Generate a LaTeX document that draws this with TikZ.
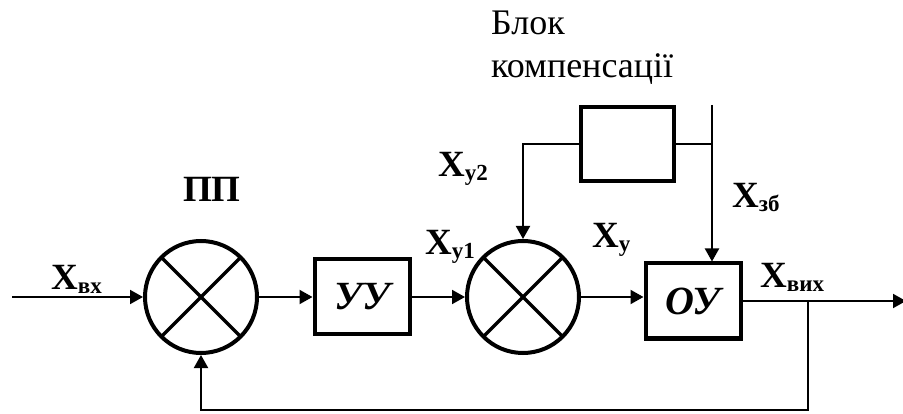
\documentclass[tikz,border=0pt]{standalone}
\usepackage{fontspec}
\setmainfont{Liberation Serif}
\usetikzlibrary{arrows.meta,calc}

% signal label: bold X with a bold subscript
\newcommand{\sigX}[1]{{\fontsize{37}{40}\selectfont\bfseries X\raisebox{-3.5pt}{\fontsize{23}{26}\selectfont #1}}}

\begin{document}
\begin{tikzpicture}[x=1pt,y=-1pt,
  wire/.style={line width=2pt},
  arr/.style={wire,-{Triangle[length=13pt,width=14pt]}},
  blockbox/.style={draw,line width=4pt,rectangle,inner sep=0pt,
    minimum width=95pt,minimum height=75pt,
    font=\fontsize{40}{44}\selectfont\bfseries\itshape},
  summer/.style={draw,line width=4pt,circle,inner sep=0pt,minimum size=112pt},
  cross/.style={line width=3.5pt},
  siglabel/.style={anchor=base west,inner sep=0pt},
  plain/.style={anchor=base west,inner sep=0pt,font=\fontsize{36}{40}\selectfont}]

\useasboundingbox (0,0) rectangle (903,414);

% main blocks
\node[summer] (c1) at (201,297) {};
\node[blockbox] (uu) at (362,297) {УУ};
\node[summer] (c2) at (523,297) {};
\node[blockbox,minimum width=93pt,minimum height=74pt] (comp) at (627,144) {};
\node[blockbox] (oy) at (693,301) {ОУ};

% crosses inside the summing circles
\foreach \c in {c1,c2}{
  \draw[cross] ($(\c)+(45:56)$) -- ($(\c)+(225:56)$);
  \draw[cross] ($(\c)+(135:56)$) -- ($(\c)+(315:56)$);
}

% free ends of the signal lines
\coordinate (in) at (12,297);
\coordinate (out) at (906,301);
\coordinate (tap) at (808,301);
\coordinate (ztop) at (712,105);

% forward path
\draw[arr] (in) -- (c1);
\draw[arr] (c1) -- (uu);
\draw[arr] (uu) -- (c2);
\draw[arr] (c2.east) -- (c2.east -| oy.west);
\draw[arr] (oy.east |- tap) -- (out);

% feedback loop
\draw[arr] (tap) -- ($(tap)+(0,109)$) -| (c1.south);

% compensation branch
\draw[arr] (comp.west) -| (c2.north);
\draw[wire] (comp.east) -- (comp.east -| ztop);
\draw[arr] (ztop) -- (ztop |- oy.north);

% labels
\node[siglabel] (lpp) at (183,202) {\fontsize{37}{40}\selectfont\bfseries ПП};
\node[siglabel] (lin) at (51,290) {\sigX{вх}};
\node[siglabel] (ly1) at (425,255) {\sigX{у1}};
\node[siglabel] (ly2) at (438,177) {\sigX{у2}};
\node[siglabel] (ly) at (592,248) {\sigX{у}};
\node[siglabel] (lzb) at (732,208) {\sigX{зб}};
\node[siglabel] (lout) at (760,288) {\sigX{вих}};
\node[plain] (t1) at (491,35) {Блок};
\node[plain] (t2) at (491,78) {компенсації};

\end{tikzpicture}
\end{document}
